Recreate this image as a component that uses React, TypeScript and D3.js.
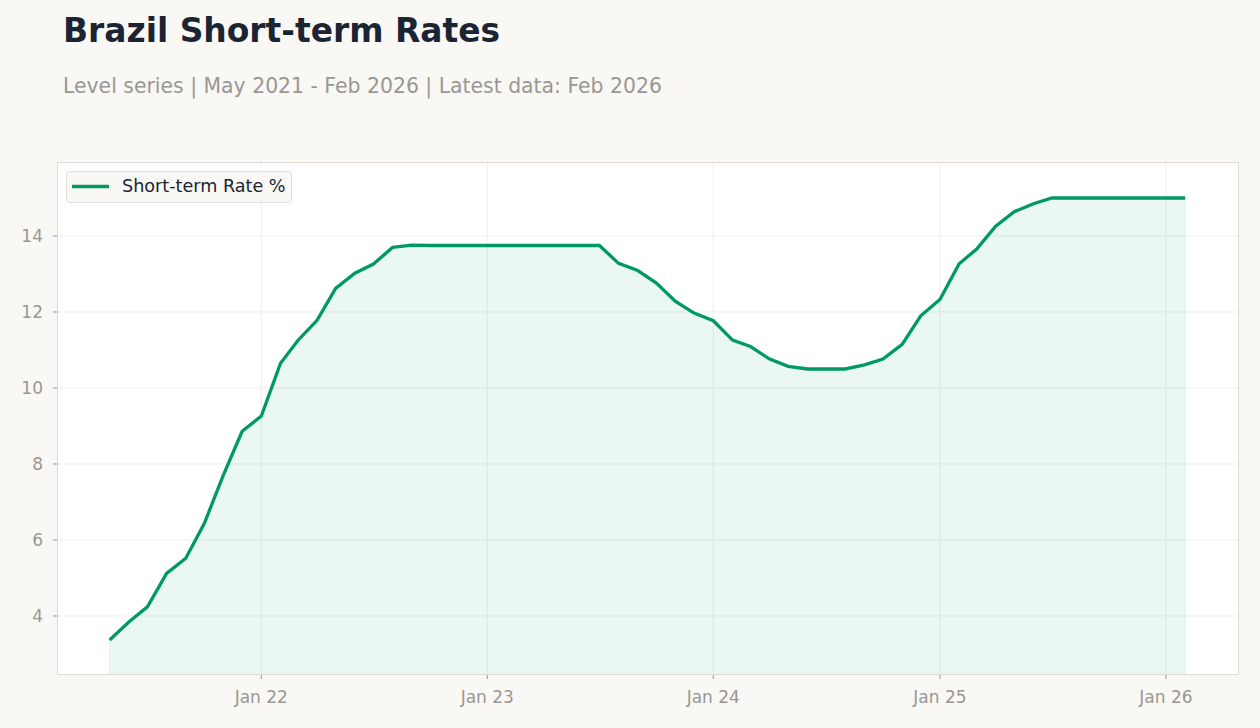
import React from "react";
import * as d3 from "d3";

// Monthly short-term policy rate, May 2021 through Feb 2026
const startMonth = { year: 2021, month: 4 }; // May 2021 (0-based month)
const rateValues: number[] = [
  3.37, 3.84, 4.24, 5.12, 5.52, 6.44, 7.72, 8.86,
  9.26, 10.65, 11.25, 11.78, 12.62, 13.02, 13.26, 13.70, 13.76, 13.75, 13.75, 13.75,
  13.75, 13.75, 13.75, 13.75, 13.75, 13.75, 13.75, 13.28, 13.09, 12.76, 12.28, 11.97,
  11.77, 11.26, 11.09, 10.76, 10.57, 10.50, 10.50, 10.50, 10.61, 10.76, 11.15, 11.90,
  12.33, 13.27, 13.65, 14.26, 14.64, 14.85, 15.00, 15.00, 15.00, 15.00, 15.00, 15.00,
  15.00, 15.00,
];
const yTicks: number[] = [4, 6, 8, 10, 12, 14];
const xTickYears: number[] = [2022, 2023, 2024, 2025, 2026];
const seriesLabel = "Short-term Rate %";
const titleText = "Brazil Short-term Rates";
const subtitleText = "Level series | May 2021 - Feb 2026 | Latest data: Feb 2026";

const W = 1260;
const H = 728;
const plot = { left: 57, right: 1239, top: 162, bottom: 675 };
const font = "'DejaVu Sans', sans-serif";
const green = "#009966";
const muted = "#9a9793";

export default function App() {
  const data = rateValues.map((v, i) => ({
    date: new Date(startMonth.year, startMonth.month + i, 1),
    value: v,
  }));

  const x = d3
    .scaleTime()
    .domain([new Date(2021, 1, 5), new Date(2026, 3, 29)])
    .range([plot.left, plot.right]);
  const y = d3.scaleLinear().domain([2.447, 15.947]).range([plot.bottom, plot.top]);

  const line = d3
    .line<{ date: Date; value: number }>()
    .x((d) => x(d.date))
    .y((d) => y(d.value));
  const area = d3
    .area<{ date: Date; value: number }>()
    .x((d) => x(d.date))
    .y0(plot.bottom)
    .y1((d) => y(d.value));

  const xTicks = xTickYears.map((yr) => new Date(yr, 0, 1));
  const fmt = d3.timeFormat("%b %y");

  return (
    <svg
      width={W}
      height={H}
      style={{ position: "absolute", left: 0, top: 0, display: "block" }}
    >
      <rect x={0} y={0} width={W} height={H} fill="#f9f8f5" />
      <text x={63} y={42} fontFamily={font} fontSize={32.9} fontWeight="bold" fill="#1b2433">
        {titleText}
      </text>
      <text x={63} y={93} fontFamily={font} fontSize={20.4} fill={muted}>
        {subtitleText}
      </text>

      <rect
        x={plot.left}
        y={plot.top}
        width={plot.right - plot.left}
        height={plot.bottom - plot.top}
        fill="#ffffff"
      />
      <defs>
        <clipPath id="plotClip">
          <rect
            x={plot.left}
            y={plot.top}
            width={plot.right - plot.left}
            height={plot.bottom - plot.top}
          />
        </clipPath>
      </defs>

      {/* grid */}
      {yTicks.map((t) => (
        <line
          key={"gy" + t}
          x1={plot.left}
          x2={plot.right}
          y1={y(t)}
          y2={y(t)}
          stroke="#efeeec"
          strokeWidth={1}
        />
      ))}
      {xTicks.map((t) => (
        <line
          key={"gx" + t.getFullYear()}
          x1={x(t)}
          x2={x(t)}
          y1={plot.top}
          y2={plot.bottom}
          stroke="#efeeec"
          strokeWidth={1}
        />
      ))}

      <g clipPath="url(#plotClip)">
        <path
          d={area(data) || ""}
          fill={green}
          fillOpacity={0.08}
          stroke={green}
          strokeOpacity={0.08}
          strokeWidth={1}
        />
        <path
          d={line(data) || ""}
          fill="none"
          stroke={green}
          strokeWidth={3.3}
          strokeLinejoin="miter"
        />
      </g>

      <rect
        x={plot.left + 0.5}
        y={plot.top + 0.5}
        width={plot.right - plot.left - 1}
        height={plot.bottom - plot.top - 1}
        fill="none"
        stroke="#dedad3"
        strokeWidth={1}
      />

      {/* y axis */}
      {yTicks.map((t) => (
        <g key={"yt" + t}>
          <line x1={plot.left - 4} x2={plot.left} y1={y(t)} y2={y(t)} stroke={muted} strokeWidth={1} />
          <text
            x={plot.left - 14}
            y={y(t)}
            dy="0.35em"
            textAnchor="end"
            fontFamily={font}
            fontSize={17}
            fill={muted}
          >
            {t}
          </text>
        </g>
      ))}

      {/* x axis */}
      {xTicks.map((t) => (
        <g key={"xt" + t.getFullYear()}>
          <line x1={x(t)} x2={x(t)} y1={plot.bottom} y2={plot.bottom + 4} stroke={muted} strokeWidth={1} />
          <text
            x={x(t)}
            y={plot.bottom + 28}
            textAnchor="middle"
            fontFamily={font}
            fontSize={17}
            fill={muted}
          >
            {fmt(t)}
          </text>
        </g>
      ))}

      {/* legend */}
      <rect x={66.5} y={171.5} width={225} height={31} rx={3} fill="#f9f8f5" stroke="#e3dfd8" />
      <line x1={72} x2={109} y1={186.5} y2={186.5} stroke={green} strokeWidth={3.3} />
      <text x={122} y={192} fontFamily={font} fontSize={17.6} fill="#1b2433">
        {seriesLabel}
      </text>
    </svg>
  );
}
